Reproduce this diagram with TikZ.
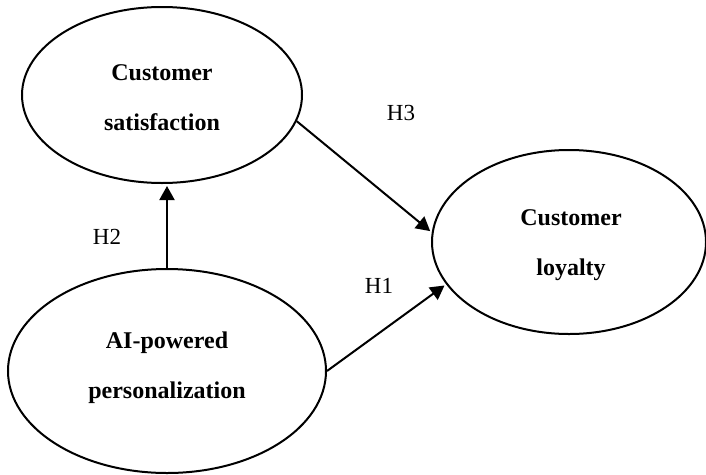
\documentclass[tikz,border=0pt]{standalone}
\usepackage{fontspec}
\setmainfont{Liberation Serif}
\usetikzlibrary{shapes.geometric,arrows.meta}
\begin{document}
\begin{tikzpicture}[x=1pt,y=-1pt,
  construct/.style={draw,ellipse,line width=2pt,inner sep=0pt},
  ctext/.style={align=center,inner sep=0pt,font=\fontsize{24}{50}\selectfont\bfseries},
  link/.style={line width=2pt,-{Triangle[length=14pt,width=15pt]},shorten >=2pt},
  hyp/.style={font=\fontsize{23}{26}\selectfont}]
\useasboundingbox (0,0) rectangle (706,474);
\node[construct,minimum width=280pt,minimum height=176pt] (sat) at (162,95) {};
\node[ctext] (sattext) at (162,98) {Customer\\satisfaction};
\node[construct,minimum width=274pt,minimum height=184pt] (loy) at (569,242) {};
\node[ctext] (loytext) at (571,245) {Customer\\loyalty};
\node[construct,minimum width=318pt,minimum height=204pt] (ai) at (167,371) {};
\node[ctext] (aitext) at (167,368) {AI-powered\\personalization};
\draw[link] (ai.north) -- (ai.north |- sat.south);
\draw[link] (sat.-11.5) -- (loy.176.8);
\draw[link] (ai.east) -- (loy.199.8);
\node[hyp] (h3) at (401,113) {H3};
\node[hyp] (h2) at (107,237) {H2};
\node[hyp] (h1) at (379,286) {H1};
\end{tikzpicture}
\end{document}
